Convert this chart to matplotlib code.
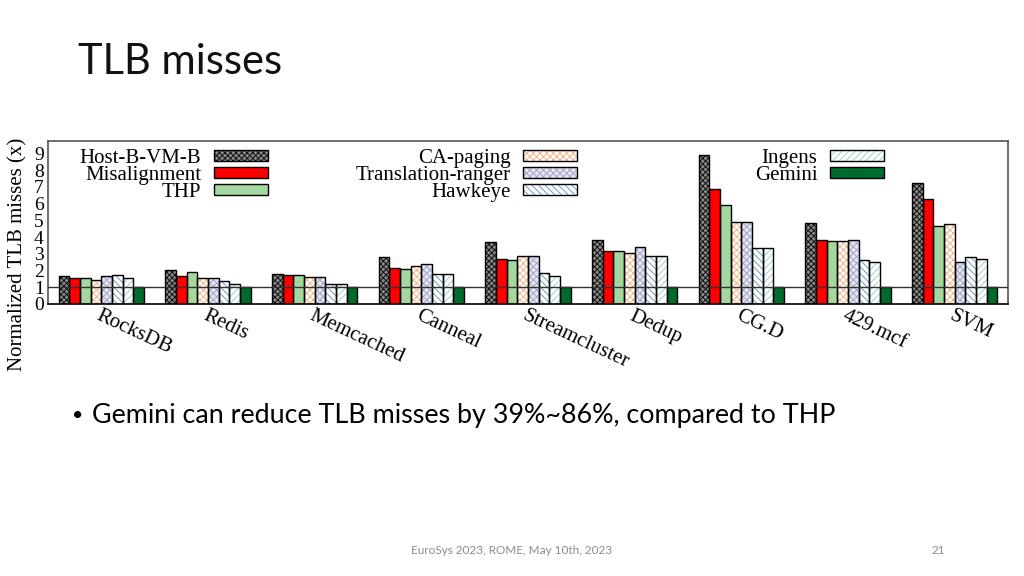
import numpy as np
import matplotlib
matplotlib.use('Agg')
import matplotlib.pyplot as plt
from matplotlib.patches import Patch
from matplotlib.legend_handler import HandlerTuple

# benchmarks on the x axis
benchmarks = ['RocksDB', 'Redis', 'Memcached', 'Canneal', 'Streamcluster',
              'Dedup', 'CG.D', '429.mcf', 'SVM']

# normalized TLB misses
host_b_vm_b = [1.68, 2.02, 1.78, 2.80, 3.69, 3.81, 8.92, 4.83, 7.23]
misalignment = [1.54, 1.68, 1.72, 2.18, 2.67, 3.17, 6.90, 3.81, 6.27]
thp = [1.54, 1.90, 1.72, 2.12, 2.61, 3.17, 5.93, 3.75, 4.69]
ca_paging = [1.42, 1.54, 1.62, 2.28, 2.90, 3.03, 4.93, 3.75, 4.77]
trans_ranger = [1.66, 1.54, 1.62, 2.38, 2.90, 3.39, 4.93, 3.81, 2.49]
hawkeye = [1.72, 1.36, 1.20, 1.78, 1.84, 2.89, 3.33, 2.61, 2.79]
ingens = [1.54, 1.22, 1.20, 1.78, 1.68, 2.89, 3.33, 2.53, 2.67]
gemini = [1.0, 1.0, 1.0, 1.0, 1.0, 1.0, 1.0, 1.0, 1.0]

series_names = ['Host-B-VM-B', 'Misalignment', 'THP', 'CA-paging',
                'Translation-ranger', 'Hawkeye', 'Ingens', 'Gemini']
series_vals = [host_b_vm_b, misalignment, thp, ca_paging,
               trans_ranger, hawkeye, ingens, gemini]

# (face, hatch, hatch colour)
styles = [('#8a8a8a', 'xxxxxx', '#111111'),
          ('#ff0000', None, '#ff0000'),
          ('#a3d9a0', None, '#a3d9a0'),
          ('#ffffff', 'xxxxx', '#f4b183'),
          ('#e6e6f2', 'xxxxx', '#a4a4c4'),
          ('#ffffff', '\\\\\\\\\\', '#6f9cc8'),
          ('#ffffff', '/////', '#9fd4c8'),
          ('#006b2e', None, '#006b2e')]

plt.rcParams['hatch.linewidth'] = 0.7
serif = 'Liberation Serif'
slide = 'Lato'

fig = plt.figure(figsize=(10.24, 5.76), dpi=100)
ax = fig.add_axes([48/1024, 1-304/576, 960/1024, 163/576])

x = np.arange(len(benchmarks))
w = 0.1
handles = []
for i, (name, vals) in enumerate(zip(series_names, series_vals)):
    face, hatch, hc = styles[i]
    pos = x - 0.35 + i*w
    ax.bar(pos, vals, w, color=face, hatch=hatch, edgecolor=hc, linewidth=0, zorder=2)
    ax.bar(pos, vals, w, fill=False, edgecolor='black', linewidth=1, zorder=3)
    handles.append((Patch(facecolor=face, hatch=hatch, edgecolor=hc, linewidth=0),
                    Patch(fill=False, edgecolor='black', linewidth=1)))

ax.axhline(1, color='#333333', linewidth=1, zorder=4)
ax.set_xlim(-0.5, len(benchmarks)-0.5)
ax.set_ylim(0, 9.75)
ax.set_yticks(range(10))
ax.set_xticks(x)
ax.set_xticklabels(benchmarks, rotation=-25, ha='left', va='top',
                   rotation_mode='anchor', family=serif, fontsize=15)
for lab in ax.get_yticklabels():
    lab.set_family(serif)
    lab.set_fontsize(14)
ax.tick_params(length=0, pad=3)
ax.tick_params(axis='x', pad=2)
for sp in ax.spines.values():
    sp.set_color('#555555')
    sp.set_linewidth(1.2)
ax.spines['bottom'].set_color('black')

fig.text(18/1024, 1-254/576, 'Normalized TLB misses (x)', rotation=90,
         ha='center', va='center', family=serif, fontsize=15)

# legend, three blocks
cols = [(0, 3, 268), (3, 6, 577), (6, 8, 884)]
for a, b, xr in cols:
    leg = ax.legend([handles[k] for k in range(a, b)], series_names[a:b],
                    handler_map={tuple: HandlerTuple(ndivide=1, pad=0)},
                    loc='upper right', bbox_to_anchor=(xr/1024, 1-149/576),
                    bbox_transform=fig.transFigure, frameon=False,
                    markerfirst=False, borderpad=0, borderaxespad=0,
                    handlelength=2.6, handleheight=0.45, handletextpad=0.6,
                    labelspacing=-0.1, prop={'family': serif, 'size': 15})
    ax.add_artist(leg)
ax.legend_ = None

# slide text
fig.text(78/1024, 1-62/576, 'TLB misses', family=slide, fontsize=30,
         va='center', ha='left', color='#111111')
fig.text(72/1024, 1-416/576, '\u2022', family=slide, fontsize=14, va='center')
fig.text(92/1024, 1-416/576, 'Gemini can reduce TLB misses by 39%~86%, compared to THP',
         family=slide, fontsize=19.4, va='center', ha='left')
fig.text(512/1024, 1-550/576, 'EuroSys 2023, ROME, May 10th, 2023', family=slide,
         fontsize=8.5, color='#8c8c8c', ha='center', va='center')
fig.text(938/1024, 1-550/576, '21', family=slide, fontsize=8.5, color='#8c8c8c',
         ha='center', va='center')

fig.savefig('out.png', dpi=100)
